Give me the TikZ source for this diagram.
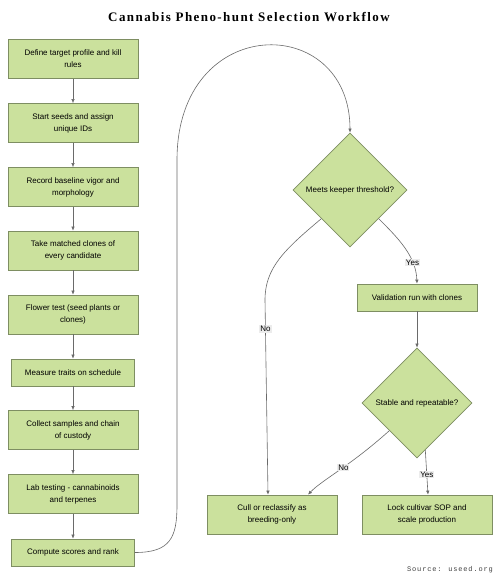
\documentclass[tikz,border=0pt]{standalone}
\usepackage{fontspec}
\setmainfont{Liberation Sans}
\newfontfamily\titlefont[LetterSpace=11]{Liberation Serif}
\newfontfamily\srcfont[LetterSpace=12]{Liberation Mono}
\usetikzlibrary{shapes.geometric,arrows.meta}
\definecolor{boxfill}{HTML}{CBE19D}
\definecolor{boxline}{HTML}{7E8E62}
\definecolor{edgecol}{HTML}{6A6A6A}
\definecolor{lblfill}{HTML}{ECECEC}
\tikzset{
  procbox/.style={draw=boxline, fill=boxfill, line width=0.7pt, rectangle,
    minimum width=130pt, minimum height=39pt, align=center, inner sep=2pt,
    font=\fontsize{8}{12}\selectfont},
  shortbox/.style={procbox, minimum width=123pt, minimum height=27pt},
  decision/.style={draw=boxline, fill=boxfill, line width=0.7pt, diamond, aspect=1,
    minimum width=114pt, minimum height=114pt, inner sep=0pt, align=center,
    font=\fontsize{8}{12}\selectfont},
  flow/.style={draw=edgecol, line width=0.6pt, -{Latex[length=4pt,width=3.5pt]}},
  lbl/.style={fill=lblfill, inner sep=1pt, font=\fontsize{8}{9}\selectfont, text=black},
}
\begin{document}
\begin{tikzpicture}[x=1pt,y=-1pt]
\fill[white] (0,0) rectangle (498,580);
\useasboundingbox (0,0) rectangle (498,580);

\node[font=\titlefont\bfseries\fontsize{13}{15}\selectfont] (title) at (249,17) {Cannabis Pheno-hunt Selection Workflow};

\node[procbox] (b1) at (73,59) {Define target profile and kill\\rules};
\node[procbox] (b2) at (73,123) {Start seeds and assign\\unique IDs};
\node[procbox] (b3) at (73,187) {Record baseline vigor and\\morphology};
\node[procbox] (b4) at (73,250.5) {Take matched clones of\\every candidate};
\node[procbox] (b5) at (73,314.5) {Flower test (seed plants or\\clones)};
\node[shortbox] (b6) at (73,372.5) {Measure traits on schedule};
\node[procbox] (b7) at (73,430) {Collect samples and chain\\of custody};
\node[procbox] (b8) at (73,494) {Lab testing - cannabinoids\\and terpenes};
\node[shortbox] (b9) at (73,552.5) {Compute scores and rank};

\node[decision] (d1) at (350,190) {Meets keeper threshold?};
\node[procbox, minimum width=120pt, minimum height=27pt] (val) at (417,297.5) {Validation run with clones};
\node[decision, minimum width=110pt, minimum height=110pt] (d2) at (417,403) {Stable and repeatable?};
\node[procbox] (cull) at (272,514.5) {Cull or reclassify as\\breeding-only};
\node[procbox] (lock) at (427,514.5) {Lock cultivar SOP and\\scale production};

\node[font=\srcfont\fontsize{7}{8}\selectfont, text=black!75] (src) at (450,570) {Source: useed.org};

\draw[flow] (b1) -- (b2);
\draw[flow] (b2) -- (b3);
\draw[flow] (b3) -- (b4);
\draw[flow] (b4) -- (b5);
\draw[flow] (b5) -- (b6);
\draw[flow] (b6) -- (b7);
\draw[flow] (b7) -- (b8);
\draw[flow] (b8) -- (b9);

\draw[flow] (b9.east) .. controls (170,552.5) and (177,538) .. (177,505)
  -- (177,160) .. controls (177,12) and (350,12) .. (d1.north);

\draw[flow] (d1.-45) .. controls (398,238) and (416,256) .. (val.north)
  node[lbl, pos=0.72] (yes1) {Yes};
\draw[flow] (d1.-135) .. controls (284,250) and (265,268) .. (265,300)
  -- node[lbl, pos=0.15] (no1) {No} ([xshift=-4pt]cull.north);
\draw[flow] (val) -- (d2);
\draw[flow] (d2.-135) .. controls (350,466) and (322,480) .. ([xshift=36pt]cull.north)
  node[lbl, pos=0.45] (no2) {No};
\draw[flow] (d2.-80) -- node[lbl, pos=0.55] (yes2) {Yes} ([xshift=1pt]lock.north);
\end{tikzpicture}
\end{document}
